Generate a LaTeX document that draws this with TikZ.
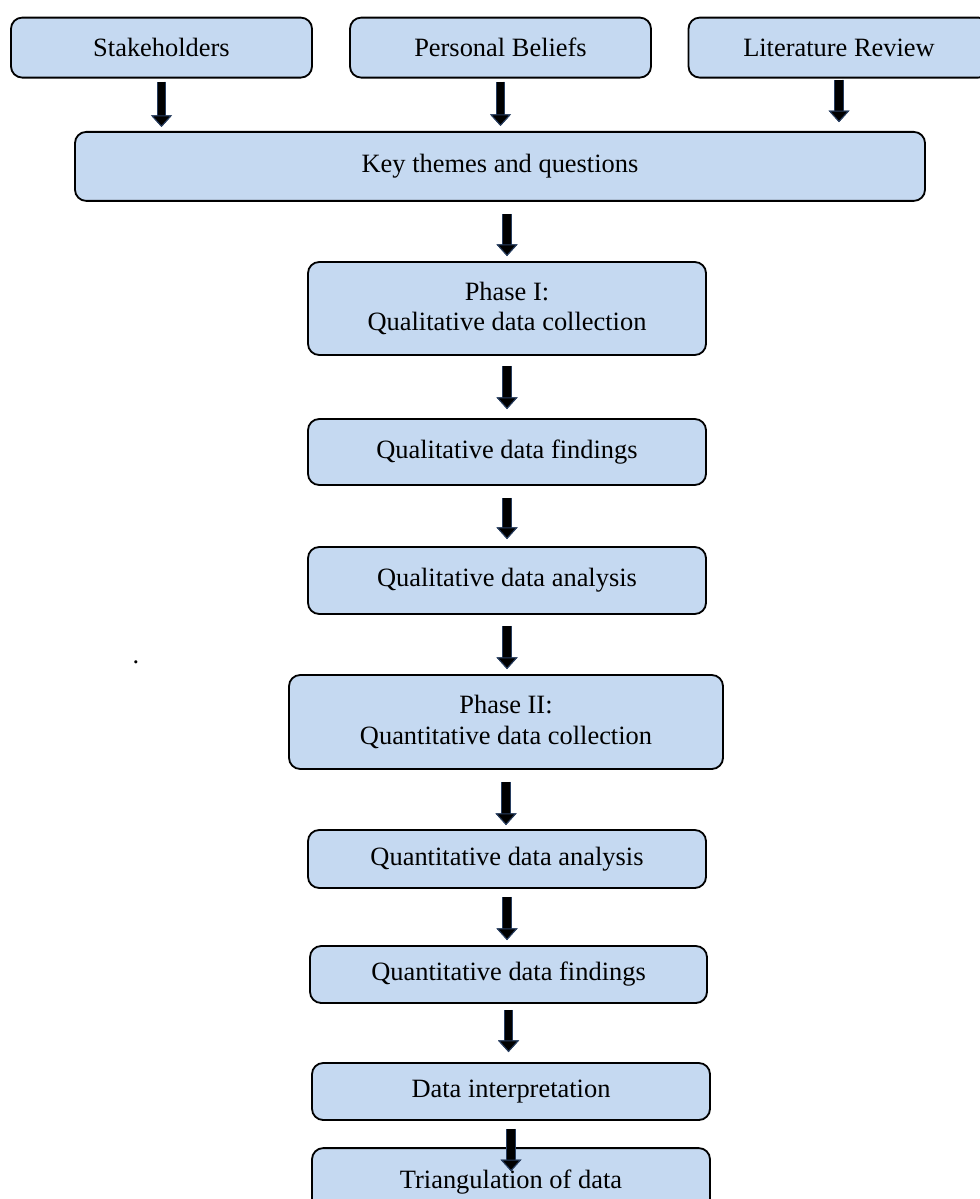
\documentclass[tikz,border=0pt]{standalone}
\usepackage{fontspec}
\setmainfont{Liberation Serif}
\usetikzlibrary{arrows.meta, calc}
\definecolor{boxblue}{RGB}{197, 217, 241}
\definecolor{arrowedge}{RGB}{40, 62, 96}
\tikzset{
  stagebox/.style  = {rectangle, rounded corners=0.28cm, draw=black, line width=1.3pt, fill=boxblue, align=center, inner sep=0pt, font=\fontsize{18.8}{21.5}\selectfont},
  topbox/.style    = {stagebox, minimum width=7.525cm, minimum height=1.5cm},
  midbox/.style    = {stagebox, minimum width=9.95cm},
  blockarr/.style  = {line width=0.18cm, draw=black, preaction={draw=arrowedge, line width=0.24cm},
                      -{Triangle[width=0.52cm, length=0.29cm, line width=0.7pt, color=arrowedge, fill=black]}},
}

\begin{document}
\begin{tikzpicture}
  \useasboundingbox (0,0) rectangle (24.475,-29.975);

  % sources
  \node[topbox] (stake) at (4.0375,-1.19) {Stakeholders};
  \node[topbox] (beliefs) at (12.5125,-1.19) {Personal Beliefs};
  \node[topbox] (litrev) at (20.975,-1.19) {Literature Review};

  \node[stagebox, minimum width=21.25cm, minimum height=1.725cm] (themes) at (12.5,-4.16) {Key themes and questions};

  % phase I
  \node[midbox, minimum height=2.325cm] (phaseone) at (12.675,-7.7125) {Phase I:\\Qualitative data collection};
  \node[midbox, minimum height=1.65cm] (qualfind) at (12.675,-11.3) {Qualitative data findings};
  \node[midbox, minimum height=1.675cm] (qualana) at (12.675,-14.5125) {Qualitative data analysis};

  \node[font=\fontsize{18.8}{21.5}\selectfont, inner sep=0pt, anchor=base] (dot) at (3.4,-16.59) {.};

  % phase II
  \node[midbox, minimum width=10.85cm, minimum height=2.35cm] (phasetwo) at (12.65,-18.05) {Phase II:\\Quantitative data collection};
  \node[midbox, minimum height=1.45cm] (quantana) at (12.675,-21.475) {Quantitative data analysis};
  \node[midbox, minimum width=9.925cm, minimum height=1.425cm] (quantfind) at (12.7125,-24.3625) {Quantitative data findings};
  \node[midbox, minimum height=1.425cm] (interp) at (12.775,-27.2875) {Data interpretation};
  \node[midbox, minimum height=1.675cm] (triang) at (12.775,-29.54) {Triangulation of data};

  % arrows
  \draw[blockarr, shorten <=0.075cm, shorten >=0.1cm] (stake.south) -- (stake.south |- themes.north);
  \draw[blockarr, shorten <=0.075cm, shorten >=0.125cm] (beliefs.south) -- (beliefs.south |- themes.north);
  \draw[blockarr, shorten <=0.025cm, shorten >=0.22cm] (litrev.south) -- (litrev.south |- themes.north);
  \draw[blockarr, shorten <=0.3cm, shorten >=0.125cm] (themes.south -| phaseone.north) -- (phaseone.north);
  \draw[blockarr, shorten <=0.25cm, shorten >=0.225cm] (phaseone.south) -- (qualfind.north);
  \draw[blockarr, shorten <=0.3cm, shorten >=0.175cm] (qualfind.south) -- (qualana.north);
  \draw[blockarr, shorten <=0.275cm, shorten >=0.125cm] (qualana.south) -- (qualana.south |- phasetwo.north);
  \draw[blockarr, shorten <=0.3cm, shorten >=0.1cm] (phasetwo.south) -- (phasetwo.south |- quantana.north);
  \draw[blockarr, shorten <=0.2cm, shorten >=0.125cm] (quantana.south) -- (quantana.south |- quantfind.north);
  \draw[blockarr, shorten <=0.15cm, shorten >=0.25cm] (quantfind.south) -- (quantfind.south |- interp.north);
  \draw[blockarr, shorten <=0.2cm, shorten >=-0.6cm] (interp.south) -- (triang.north);
\end{tikzpicture}
\end{document}
